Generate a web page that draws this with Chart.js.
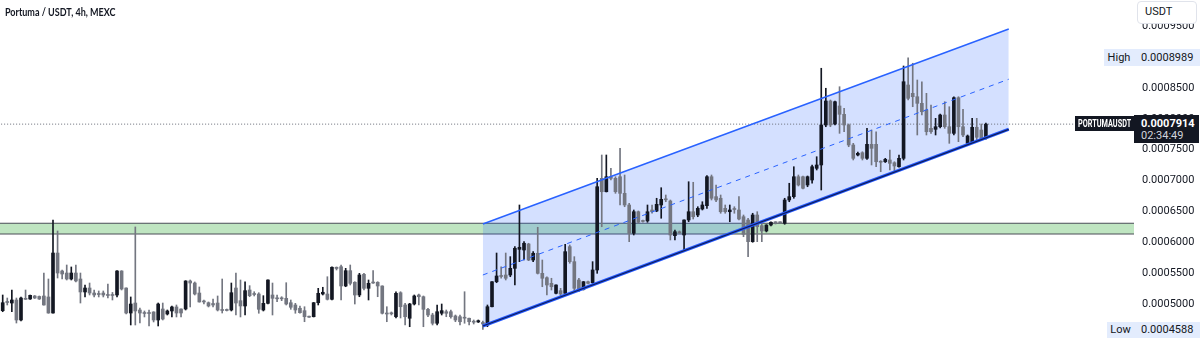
<!DOCTYPE html>
<html><head><meta charset="utf-8">
<script src="https://cdn.jsdelivr.net/npm/chart.js@4.4.1/dist/chart.umd.min.js"></script>
<style>
html,body{margin:0;padding:0;background:#fff;}
#wrap{position:relative;width:1200px;height:349px;overflow:hidden;font-family:Roboto,'Liberation Sans',sans-serif;}
#wrap canvas{position:absolute;left:0;top:0;}
.ov{position:absolute;font-size:11px;color:#131722;white-space:nowrap;box-sizing:border-box;}
.sq{display:inline-block;transform-origin:left center;}
</style></head>
<body>
<div id="wrap">
<canvas id="c" width="1200" height="349"></canvas>
<div class="ov" style="left:5px;top:5px;font-family:Lato,sans-serif;font-weight:700;font-size:11px;"><span class="sq" style="transform:scaleX(0.82);">Portuma / USDT, 4h, MEXC</span></div>
<div class="ov" style="left:1137px;top:1px;width:60px;height:23px;line-height:20px;padding-left:7px;border:1px solid #e0e3eb;border-radius:4px;background:#fff;">USDT</div>
<div class="ov" style="left:1104px;top:49px;width:30px;height:17px;line-height:17px;text-align:center;background:#e3ecfd;">High</div>
<div class="ov" style="left:1134px;top:49px;width:66px;height:17px;line-height:17px;padding-left:7px;background:#e3ecfd;">0.0008989</div>
<div class="ov" style="left:1107px;top:322px;width:27px;height:16px;line-height:16px;text-align:center;background:#e3ecfd;">Low</div>
<div class="ov" style="left:1134px;top:322px;width:66px;height:16px;line-height:16px;padding-left:7px;background:#e3ecfd;">0.0004588</div>
<div class="ov" style="left:1075px;top:116px;width:59px;height:15px;line-height:15px;padding-left:3px;background:#131722;color:#fff;font-weight:700;font-size:10px;overflow:hidden;"><span class="sq" style="transform:scaleX(0.73);">PORTUMAUSDT</span></div>
<div class="ov" style="left:1134px;top:115px;width:65px;height:28px;padding-left:7px;background:#131722;color:#fff;">
  <div style="line-height:13px;margin-top:2px;font-weight:700;">0.0007914</div>
  <div style="line-height:12px;color:#d1d4dc;">02:34:49</div>
</div>
</div>
<script>
// OHLC values (USDT), one per 4h candle
const open = [4892e-7,5041e-7,5016e-7,5065e-7,4741e-7,5092e-7,5081e-7,5130e-7,5122e-7,5130e-7,
5114e-7,4854e-7,5826e-7,5535e-7,5502e-7,5405e-7,5502e-7,5405e-7,5195e-7,5259e-7,
5178e-7,5162e-7,5178e-7,5146e-7,5146e-7,5146e-7,5535e-7,5259e-7,4854e-7,5016e-7,
4903e-7,4854e-7,4854e-7,4871e-7,4741e-7,4919e-7,4838e-7,4887e-7,4952e-7,4919e-7,
4919e-7,5373e-7,5340e-7,5178e-7,5041e-7,5021e-7,5008e-7,5016e-7,4903e-7,4903e-7,
4903e-7,5259e-7,5054e-7,4968e-7,5227e-7,5162e-7,5162e-7,4903e-7,5011e-7,5146e-7,
5092e-7,5092e-7,5092e-7,5021e-7,4984e-7,4931e-7,4892e-7,4794e-7,4794e-7,5021e-7,
5162e-7,5162e-7,5076e-7,5595e-7,5604e-7,5292e-7,5540e-7,5352e-7,5146e-7,5481e-7,
5254e-7,5352e-7,5352e-7,5292e-7,4850e-7,4850e-7,4794e-7,5183e-7,4984e-7,4769e-7,
5000e-7,5146e-7,5118e-7,4914e-7,4822e-7,4688e-7,4850e-7,4875e-7,4875e-7,4806e-7,
4794e-7,4778e-7,4769e-7,4713e-7,4709e-7,4700e-7,4660e-7,4956e-7,5361e-7,5454e-7,
5470e-7,5470e-7,5578e-7,5886e-7,5875e-7,5972e-7,5713e-7,5822e-7,5497e-7,5426e-7,
5335e-7,5173e-7,5216e-7,5173e-7,5929e-7,5686e-7,5389e-7,5238e-7,5361e-7,5345e-7,
5551e-7,7036e-7,6819e-7,7062e-7,7036e-7,7062e-7,6793e-7,6604e-7,6146e-7,6495e-7,
6345e-7,6345e-7,6523e-7,6507e-7,6604e-7,6696e-7,6669e-7,6107e-7,6162e-7,6118e-7,
6361e-7,6495e-7,6442e-7,6539e-7,6593e-7,7062e-7,6739e-7,6713e-7,6550e-7,6495e-7,
6539e-7,6523e-7,6414e-7,6361e-7,6010e-7,6442e-7,6269e-7,6183e-7,6280e-7,6324e-7,
6324e-7,6308e-7,6685e-7,6739e-7,7062e-7,7062e-7,6928e-7,7009e-7,7198e-7,7252e-7,
7900e-7,8289e-7,7916e-7,8208e-7,8073e-7,7900e-7,7576e-7,7414e-7,7451e-7,7360e-7,
7587e-7,7587e-7,7305e-7,7305e-7,7333e-7,7289e-7,7224e-7,7360e-7,8548e-7,8413e-7,
8358e-7,8251e-7,8143e-7,7846e-7,7830e-7,7872e-7,8062e-7,7872e-7,7765e-7,8342e-7,
7872e-7,7603e-7,7613e-7,7863e-7,7819e-7,7685e-7];
const high = [5146e-7,5097e-7,5227e-7,5097e-7,5114e-7,5227e-7,5146e-7,5138e-7,5130e-7,5502e-7,
5405e-7,6361e-7,6183e-7,5551e-7,5632e-7,5600e-7,5632e-7,5502e-7,5308e-7,5340e-7,
5227e-7,5211e-7,5211e-7,5324e-7,5187e-7,5540e-7,5540e-7,5262e-7,5114e-7,6248e-7,
4935e-7,4887e-7,4903e-7,4875e-7,5016e-7,5016e-7,4903e-7,4968e-7,4984e-7,4922e-7,
5378e-7,5389e-7,5357e-7,5276e-7,5065e-7,5033e-7,5081e-7,5130e-7,5405e-7,4919e-7,
5340e-7,5502e-7,5389e-7,5361e-7,5297e-7,5199e-7,5183e-7,5135e-7,5392e-7,5340e-7,
5146e-7,5118e-7,5345e-7,5065e-7,5011e-7,4968e-7,4956e-7,4806e-7,5025e-7,5254e-7,
5271e-7,5442e-7,5604e-7,5600e-7,5632e-7,5578e-7,5632e-7,5361e-7,5497e-7,5497e-7,
5389e-7,5540e-7,5361e-7,5295e-7,4956e-7,4871e-7,5199e-7,5199e-7,5011e-7,5011e-7,
5146e-7,5162e-7,5130e-7,4931e-7,4850e-7,4984e-7,5000e-7,4903e-7,4903e-7,4822e-7,
4822e-7,5199e-7,4773e-7,4741e-7,4741e-7,4725e-7,4984e-7,5365e-7,5826e-7,5604e-7,
5826e-7,5767e-7,5929e-7,6604e-7,6010e-7,5984e-7,5848e-7,6243e-7,5713e-7,5442e-7,
5417e-7,5311e-7,5254e-7,5967e-7,5956e-7,5767e-7,5417e-7,5365e-7,5373e-7,5686e-7,
7036e-7,7414e-7,7414e-7,7198e-7,7062e-7,7522e-7,7090e-7,6631e-7,6523e-7,6507e-7,
6361e-7,6604e-7,6604e-7,6713e-7,6884e-7,6766e-7,6685e-7,6199e-7,6183e-7,6365e-7,
6981e-7,6972e-7,6576e-7,6657e-7,7079e-7,7090e-7,6928e-7,6766e-7,6604e-7,6604e-7,
6576e-7,6739e-7,6442e-7,6389e-7,6470e-7,6495e-7,6308e-7,6285e-7,6333e-7,6333e-7,
6333e-7,6713e-7,6956e-7,7224e-7,7090e-7,7074e-7,7074e-7,7252e-7,7386e-7,8819e-7,
8495e-7,8305e-7,8289e-7,8520e-7,8170e-7,7916e-7,7603e-7,7463e-7,7467e-7,7846e-7,
7819e-7,7791e-7,7322e-7,7360e-7,7495e-7,7305e-7,7414e-7,8856e-7,8989e-7,8900e-7,
8629e-7,8601e-7,8413e-7,8224e-7,8008e-7,8078e-7,8277e-7,8196e-7,8358e-7,8358e-7,
8154e-7,7738e-7,8008e-7,8008e-7,7916e-7,7930e-7];
const low = [4875e-7,4984e-7,4875e-7,4692e-7,4725e-7,5073e-7,5073e-7,5089e-7,5073e-7,4980e-7,
4850e-7,4850e-7,5421e-7,5405e-7,5389e-7,5389e-7,5357e-7,5016e-7,5114e-7,5146e-7,
5114e-7,5114e-7,5114e-7,5097e-7,5065e-7,5114e-7,5227e-7,4838e-7,4660e-7,4660e-7,
4692e-7,4790e-7,4644e-7,4709e-7,4644e-7,4741e-7,4822e-7,4790e-7,4790e-7,4790e-7,
4903e-7,4952e-7,5146e-7,5030e-7,5000e-7,4952e-7,4952e-7,4887e-7,4854e-7,4887e-7,
4887e-7,4822e-7,4790e-7,4822e-7,5118e-7,5130e-7,4850e-7,4887e-7,5000e-7,4822e-7,
5037e-7,5054e-7,4984e-7,4914e-7,4850e-7,4850e-7,4713e-7,4781e-7,4790e-7,4984e-7,
5146e-7,5065e-7,5065e-7,5551e-7,5065e-7,5280e-7,5308e-7,5000e-7,5118e-7,5227e-7,
5065e-7,5335e-7,5118e-7,4838e-7,4713e-7,4822e-7,4773e-7,4773e-7,4660e-7,4632e-7,
4984e-7,4984e-7,4632e-7,4794e-7,4660e-7,4660e-7,4822e-7,4794e-7,4769e-7,4713e-7,
4660e-7,4688e-7,4660e-7,4676e-7,4700e-7,4588e-7,4632e-7,4952e-7,5345e-7,5417e-7,
5389e-7,5442e-7,5308e-7,5686e-7,5713e-7,5702e-7,5686e-7,5486e-7,5280e-7,5146e-7,
5227e-7,5162e-7,5118e-7,5146e-7,5660e-7,5199e-7,5199e-7,5227e-7,5324e-7,5335e-7,
5497e-7,6252e-7,6815e-7,7009e-7,6793e-7,6604e-7,6576e-7,6010e-7,6118e-7,6312e-7,
6324e-7,6324e-7,6470e-7,6495e-7,6389e-7,6657e-7,6037e-7,6037e-7,6146e-7,5848e-7,
6333e-7,6377e-7,6414e-7,6523e-7,6550e-7,6685e-7,6657e-7,6470e-7,6470e-7,6333e-7,
6470e-7,6361e-7,6090e-7,5767e-7,6000e-7,6010e-7,6010e-7,6167e-7,6264e-7,6296e-7,
6308e-7,6291e-7,6657e-7,6713e-7,6912e-7,6863e-7,6900e-7,6956e-7,7171e-7,6847e-7,
7872e-7,7872e-7,7900e-7,7765e-7,7791e-7,7548e-7,7333e-7,7398e-7,7333e-7,7344e-7,
7252e-7,7224e-7,7143e-7,7292e-7,7171e-7,7143e-7,7215e-7,7333e-7,8305e-7,8196e-7,
7738e-7,8062e-7,7738e-7,7765e-7,7738e-7,7851e-7,7846e-7,7603e-7,7738e-7,7630e-7,
7711e-7,7600e-7,7603e-7,7630e-7,7657e-7,7670e-7];
const close = [5021e-7,5024e-7,5065e-7,4741e-7,5097e-7,5076e-7,5141e-7,5097e-7,5081e-7,4984e-7,
4854e-7,5826e-7,5502e-7,5486e-7,5405e-7,5502e-7,5373e-7,5195e-7,5259e-7,5178e-7,
5146e-7,5154e-7,5146e-7,5138e-7,5138e-7,5535e-7,5243e-7,4854e-7,5000e-7,4887e-7,
4854e-7,4846e-7,4846e-7,4741e-7,5000e-7,4757e-7,4887e-7,4952e-7,4854e-7,4854e-7,
5373e-7,5340e-7,5162e-7,5033e-7,5033e-7,4968e-7,4984e-7,4903e-7,4895e-7,4895e-7,
5183e-7,5016e-7,4968e-7,5216e-7,5135e-7,5154e-7,4914e-7,5011e-7,5389e-7,5092e-7,
5084e-7,5084e-7,5000e-7,4947e-7,4903e-7,4859e-7,4794e-7,4786e-7,5021e-7,5173e-7,
5190e-7,5076e-7,5595e-7,5575e-7,5292e-7,5540e-7,5335e-7,5146e-7,5470e-7,5254e-7,
5335e-7,5340e-7,5292e-7,4850e-7,4838e-7,4841e-7,5173e-7,4956e-7,4794e-7,5000e-7,
5130e-7,5118e-7,4914e-7,4822e-7,4688e-7,4875e-7,4892e-7,4850e-7,4794e-7,4741e-7,
4713e-7,4770e-7,4713e-7,4705e-7,4730e-7,4676e-7,4956e-7,5361e-7,5454e-7,5446e-7,
5417e-7,5578e-7,5903e-7,5919e-7,5984e-7,5713e-7,5822e-7,5497e-7,5417e-7,5308e-7,
5280e-7,5308e-7,5162e-7,5848e-7,5686e-7,5254e-7,5238e-7,5361e-7,5335e-7,5551e-7,
6900e-7,6819e-7,7062e-7,7036e-7,6819e-7,6793e-7,6604e-7,6146e-7,6495e-7,6324e-7,
6337e-7,6495e-7,6495e-7,6615e-7,6696e-7,6688e-7,6118e-7,6171e-7,6154e-7,6361e-7,
6495e-7,6414e-7,6550e-7,6604e-7,7062e-7,6713e-7,6685e-7,6495e-7,6495e-7,6523e-7,
6531e-7,6377e-7,6129e-7,6010e-7,6442e-7,6252e-7,6183e-7,6280e-7,6324e-7,6316e-7,
6316e-7,6685e-7,6739e-7,7062e-7,6928e-7,6875e-7,7062e-7,7224e-7,7252e-7,7900e-7,
8289e-7,7900e-7,8277e-7,8073e-7,7900e-7,7576e-7,7360e-7,7441e-7,7360e-7,7587e-7,
7522e-7,7305e-7,7297e-7,7344e-7,7279e-7,7236e-7,7360e-7,8601e-7,8332e-7,8358e-7,
8251e-7,8115e-7,7791e-7,7791e-7,7872e-7,8062e-7,7872e-7,7765e-7,8342e-7,7872e-7,
7738e-7,7722e-7,7863e-7,7701e-7,7685e-7,7914e-7];

// Drawings (candle index, price)
const channelX = [105, 220];
const channelUpper = [6296e-7, 9455e-7];
const channelMid = [5470e-7, 8642e-7];
const channelLower = [4644e-7, 7830e-7];
const zoneTop = 6308e-7;
const zoneBottom = 6134e-7;
const lastPrice = 7914e-7;

// Axis
const priceMin = 4271e-7, priceMax = 9925e-7, priceStep = 5e-5;
const idxMin = -0.59, idxMax = 247.39;

const UP = '#131722', DOWN = '#737680';
const idx = open.map((_, i) => i);
const colorOf = (c) => close[c.dataIndex] >= open[c.dataIndex] ? UP : DOWN;
const pts = (xs, ys) => xs.map((x, k) => ({x, y: ys[k]}));
const hline = (v) => [{x: idxMin - 5, y: v}, {x: idxMax + 5, y: v}];
const lineBase = {type: 'line', pointRadius: 0, tension: 0, fill: false, borderWidth: 1};

new Chart(document.getElementById('c'), {
  type: 'bar',
  data: {
    datasets: [
      Object.assign({}, lineBase, {data: hline(zoneTop), borderColor: '#4a4d57', backgroundColor: '#bfe5c1', fill: '+1', order: 100}),
      Object.assign({}, lineBase, {data: hline(zoneBottom), borderColor: '#4a4d57', order: 99}),
      Object.assign({}, lineBase, {data: pts(channelX, channelUpper), borderWidth: 0, borderColor: 'rgba(0,0,0,0)', backgroundColor: 'rgba(41,98,255,0.2)', fill: '+1', order: 90}),
      Object.assign({}, lineBase, {data: pts(channelX, channelLower), borderWidth: 0, borderColor: 'rgba(0,0,0,0)', order: 89}),
      Object.assign({}, lineBase, {data: hline(lastPrice), borderColor: '#6a6d78', borderDash: [1, 2], order: 80}),
      {type: 'bar', data: idx.map(i => ({x: i, y: [low[i], high[i]]})), backgroundColor: colorOf, barThickness: 1, grouped: false, minBarLength: 1, order: 5},
      {type: 'bar', data: idx.map(i => ({x: i, y: [open[i], close[i]]})), backgroundColor: colorOf, barThickness: 3, grouped: false, minBarLength: 1, order: 4},
      Object.assign({}, lineBase, {data: pts(channelX, channelMid), borderColor: '#2962ff', borderDash: [5, 5], order: -1}),
      Object.assign({}, lineBase, {data: pts(channelX, channelUpper), borderColor: '#2962ff', borderWidth: 1.5, order: -1}),
      Object.assign({}, lineBase, {data: pts(channelX, channelLower), borderColor: '#2458ff', borderWidth: 3.2, order: -1}),
      Object.assign({}, lineBase, {data: pts(channelX, channelLower), borderColor: 'rgba(10,20,60,0.85)', borderWidth: 1.2, order: -2})
    ]
  },
  options: {
    responsive: false,
    animation: false,
    events: [],
    layout: {padding: 0},
    plugins: {legend: {display: false}, tooltip: {enabled: false}, title: {display: false}},
    scales: {
      x: {type: 'linear', min: idxMin, max: idxMax, offset: false, display: false},
      y: {
        type: 'linear', position: 'right', min: priceMin, max: priceMax, beginAtZero: false,
        grid: {display: false, drawTicks: false}, border: {display: false},
        ticks: {stepSize: priceStep, includeBounds: false, padding: 8, color: '#131722',
          font: {family: 'Roboto', size: 11},
          callback: (v) => v.toFixed(7)},
        afterFit: (s) => { s.width = 66; s.paddingTop = 0; s.paddingBottom = 0; }
      }
    }
  }
});
</script>
</body></html>
